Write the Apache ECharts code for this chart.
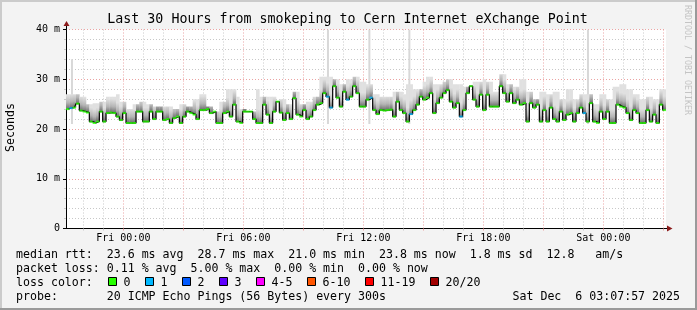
<!DOCTYPE html>
<html><head><meta charset="utf-8">
<script src="https://cdn.jsdelivr.net/npm/echarts@6/dist/echarts.min.js"></script>
<style>html,body{margin:0;padding:0;background:#f3f3f3}#c{width:697px;height:310px}</style>
</head><body><div id="c"></div>
<script>
// ---- time frame (hours relative to Fri 00:00) ----
const startHour = -2.868;   // Thu 21:07:57
const endHour = 27.132;     // Sat 03:07:57
const sampleHours = 1 / 6;  // one median every 10 minutes
const smokeColHours = 1 / 3;

// ---- median rtt (ms), 10-minute samples ----
const median = [
24.0, 24.2, 24.3, 25.1, 23.7, 23.5, 23.3, 21.5, 21.2, 21.5, 23.5, 21.5, 23.2, 23.3, 23.2, 22.5, 21.8, 23.2, 21.2, 21.2, 21.2, 23.5, 23.5, 21.5, 21.5, 23.5, 22.0, 23.5, 23.5, 21.8,
22.0, 21.2, 22.2, 22.5, 21.2, 22.5, 23.5, 23.2, 22.9, 22.0, 23.8, 23.8, 24.0, 23.2, 23.5, 21.2, 21.2, 23.2, 23.5, 22.5, 24.9, 21.5, 21.2, 23.5, 23.5, 23.5, 22.0, 21.2, 21.2, 24.9, 22.9,
21.2, 23.5, 25.5, 23.3, 21.8, 23.2, 22.0, 26.2, 22.9, 22.5, 23.8, 22.0, 22.5, 23.8, 24.9, 25.2, 27.2, 26.5, 24.3, 28.6, 26.3, 24.5, 27.5, 25.9, 26.5, 28.6, 27.2, 24.5, 24.5, 25.9, 26.3,
23.8, 23.0, 23.8, 23.7, 23.8, 23.9, 22.5, 25.5, 23.8, 23.2, 21.5, 23.0, 23.8, 24.9, 26.5, 25.9, 26.3, 27.2, 23.2, 25.2, 26.3, 27.2, 27.8, 25.5, 24.3, 25.2, 22.5, 23.8, 27.2, 28.6, 25.9, 24.5,
26.9, 23.8, 26.9, 24.5, 24.5, 24.5, 28.6, 27.2, 25.5, 27.2, 25.2, 25.9, 24.9, 25.2, 21.5, 25.2, 24.3, 24.9, 21.5, 23.8, 21.5, 24.3, 22.0, 21.5, 23.5, 21.8, 22.9, 23.2, 21.5, 23.2,
24.3, 23.2, 21.5, 25.2, 21.5, 21.2, 23.5, 22.0, 23.5, 21.2, 21.2, 24.9, 24.5, 24.3, 23.2, 21.8, 23.8, 23.2, 21.2, 21.2, 23.8, 21.5, 22.9, 21.2, 24.9, 23.8
];
// samples that lost 1 of 20 pings
const lossOneSamples = [1, 78, 79, 84, 91, 103, 118, 155];

// ---- smoke top (ms), 20-minute columns ----
const smokeHi = [
27, 27, 26.5, 25, 25.2, 25.5, 26.5, 27, 25.5, 24, 25, 25.5, 25, 24.5, 24.5,
24.5, 24, 25, 24.5, 26, 27, 24.5, 23.5, 25.5, 28, 26.5, 24, 23.5, 28, 26.5, 26.5,
24, 26, 25, 27.5, 25, 25.5, 26.5, 30.5, 30.5, 30, 29, 30, 30.5, 29.5, 29, 27,
26.5, 26.5, 27.5, 27, 29, 28, 29.5, 30.5, 29, 29.5, 30, 29, 28.5, 28.5, 29.5, 30,
29.5, 27.5, 31, 29, 28.5, 30, 27.5, 26, 27.5, 27, 27.5, 26, 28, 26, 27,
27, 25, 27, 26, 28.5, 29, 28, 27, 26, 26.5, 26, 28
];
// isolated outlier pings: [hour, ms]
const spikeHours = [-2.57, 10.23, 12.30, 14.30, 23.23];
const spikeTops = [34, 40, 40, 40, 40];

// ---- axes ----
const yTickValues = [0, 10, 20, 30, 40];
const xLabelValues = [0, 6, 12, 18, 24];
const xLabelTexts = ['Fri 00:00', 'Fri 06:00', 'Fri 12:00', 'Fri 18:00', 'Sat 00:00'];
const hourMinor = [];
const hourMajor = [];
for (let h = -2; h <= 27; h++) { (h % 3 === 0 ? hourMajor : hourMinor).push(h); }

// ---- legend texts ----
const titleText = 'Last 30 Hours from smokeping to Cern Internet eXchange Point';
const statLine1 = 'median rtt:  23.6 ms avg  28.7 ms max  21.0 ms min  23.8 ms now  1.8 ms sd  12.8   am/s';
const statLine2 = 'packet loss: 0.11 % avg  5.00 % max  0.00 % min  0.00 % now';
const lossLabels = ['0', '1', '2', '3', '4-5', '6-10', '11-19', '20/20'];
const lossColors = ['#26ff00', '#00b8ff', '#0059ff', '#5e00ff', '#ff00ff', '#ff5500', '#ff0000', '#a10000'];
const probeText = 'probe:       20 ICMP Echo Pings (56 Bytes) every 300s';
const dateText = 'Sat Dec  6 03:07:57 2025';

// ---------------------------------------------------------------
const MONO = '"DejaVu Sans Mono", monospace';
const lossSet = new Set(lossOneSamples);
const medianData = median.map((m, i) => [startHour + (i + 0.5) * sampleHours, m]);
const smokeData = median.map((m, i) => [startHour + (i + 0.5) * sampleHours, m, smokeHi[Math.floor(i * sampleHours / smokeColHours)]]);
const spikeData = spikeHours.map((h, i) => [h, 21, spikeTops[i]]);

const chart = echarts.init(document.getElementById('c'), null, {renderer: 'canvas'});

const GRID = {left: 66, top: 29.5, width: 600, height: 199};
const gx0 = GRID.left, gy1 = GRID.top + GRID.height, gx1 = GRID.left + GRID.width;

const graphics = [];
// frame
graphics.push({type: 'rect', shape: {x: 0, y: 0, width: 697, height: 2}, style: {fill: '#cbcbcb'}, silent: true});
graphics.push({type: 'rect', shape: {x: 0, y: 0, width: 2, height: 310}, style: {fill: '#cbcbcb'}, silent: true});
graphics.push({type: 'rect', shape: {x: 0, y: 308, width: 697, height: 2}, style: {fill: '#9a9a9a'}, silent: true});
graphics.push({type: 'rect', shape: {x: 695, y: 0, width: 2, height: 310}, style: {fill: '#9a9a9a'}, silent: true});
// title
graphics.push({type: 'text', x: 347.5, y: 19.5, style: {text: titleText, font: '13.3px ' + MONO, fill: '#000', align: 'center', verticalAlign: 'middle'}, silent: true});
// y label
graphics.push({type: 'text', x: 10.5, y: 127.5, rotation: Math.PI / 2, style: {text: 'Seconds', font: '11.6px ' + MONO, fill: '#000', align: 'center', verticalAlign: 'middle'}, silent: true});
// watermark
graphics.push({type: 'text', x: 687, y: 5, rotation: -Math.PI / 2, style: {text: 'RRDTOOL / TOBI OETIKER', font: '8.3px ' + MONO, fill: '#c4c4c4', align: 'left', verticalAlign: 'middle'}, silent: true});
// axis arrows
graphics.push({type: 'line', shape: {x1: gx0 + 0.5, y1: GRID.top, x2: gx0 + 0.5, y2: 25}, style: {stroke: '#000', lineWidth: 1}, silent: true});
graphics.push({type: 'polygon', shape: {points: [[gx0 - 2.5, 26], [gx0 + 3.5, 26], [gx0 + 0.5, 21]]}, style: {fill: '#8b1a1a'}, silent: true});
graphics.push({type: 'line', shape: {x1: gx1, y1: gy1, x2: gx1 + 2, y2: gy1}, style: {stroke: '#000', lineWidth: 1}, silent: true});
graphics.push({type: 'polygon', shape: {points: [[gx1 + 1, gy1 - 3], [gx1 + 1, gy1 + 3], [gx1 + 6.5, gy1]]}, style: {fill: '#8b1a1a'}, silent: true});
// legend lines
const LFONT = '11.6px ' + MONO;
const lx = 16;
graphics.push({type: 'text', x: lx, y: 254.5, style: {text: statLine1, font: LFONT, fill: '#000', verticalAlign: 'middle'}, silent: true});
graphics.push({type: 'text', x: lx, y: 268.5, style: {text: statLine2, font: LFONT, fill: '#000', verticalAlign: 'middle'}, silent: true});
graphics.push({type: 'text', x: lx, y: 282.5, style: {text: 'loss color:', font: LFONT, fill: '#000', verticalAlign: 'middle'}, silent: true});
const boxX = [108.5, 145.5, 182.5, 219.5, 256.5, 307.5, 365.5, 430.5];
lossLabels.forEach((lab, i) => {
  graphics.push({type: 'rect', shape: {x: boxX[i], y: 277.5, width: 8, height: 8}, style: {fill: lossColors[i], stroke: '#000', lineWidth: 1}, silent: true});
  graphics.push({type: 'text', x: boxX[i] + 15, y: 282.5, style: {text: lab, font: LFONT, fill: '#000', verticalAlign: 'middle'}, silent: true});
});
graphics.push({type: 'text', x: lx, y: 296.5, style: {text: probeText, font: LFONT, fill: '#000', verticalAlign: 'middle'}, silent: true});
graphics.push({type: 'text', x: 680, y: 296.5, style: {text: dateText, font: LFONT, fill: '#000', align: 'right', verticalAlign: 'middle'}, silent: true});

const GRIDGRAY = '#c8c8c8';
const GRIDRED = '#eba3a3';

chart.setOption({
  backgroundColor: '#f3f3f3',
  animation: false,
  grid: {left: GRID.left, top: GRID.top, width: GRID.width, height: GRID.height, show: true, backgroundColor: '#ffffff', borderWidth: 0},
  xAxis: [{
    type: 'value', min: startHour, max: endHour, position: 'bottom',
    axisLine: {show: true, onZero: false, lineStyle: {color: '#000', width: 1}},
    axisTick: {show: true, customValues: hourMinor, length: 2, lineStyle: {color: GRIDGRAY}},
    axisLabel: {show: false},
    splitLine: {show: true, lineStyle: {color: GRIDGRAY, width: 1, type: [1, 2]}}
  }, {
    type: 'value', min: startHour, max: endHour, position: 'bottom',
    axisLine: {show: false, onZero: false},
    axisTick: {show: true, customValues: hourMajor, length: 2, lineStyle: {color: GRIDRED}},
    axisLabel: {show: true, customValues: xLabelValues, margin: 5, fontFamily: MONO, fontSize: 10, color: '#000',
      formatter: v => xLabelTexts[xLabelValues.indexOf(Math.round(v))] || ''},
    splitLine: {show: true, lineStyle: {color: GRIDRED, width: 1, type: [1, 2]}}
  }],
  yAxis: {
    type: 'value', min: 0, max: 40, interval: 10,
    axisLine: {show: true, onZero: false, lineStyle: {color: '#000', width: 1}},
    axisTick: {show: true, length: 3, lineStyle: {color: '#000'}},
    minorTick: {show: true, splitNumber: 5, length: 2, lineStyle: {color: GRIDGRAY}},
    minorSplitLine: {show: true, lineStyle: {color: GRIDGRAY, width: 1, type: [1, 2]}},
    splitLine: {show: true, lineStyle: {color: GRIDRED, width: 1, type: [1, 2]}},
    axisLabel: {margin: 6, fontFamily: MONO, fontSize: 10, color: '#000',
      formatter: v => yTickValues.includes(v) ? (v === 0 ? '0' : v + ' m') : ''}
  },
  series: [{
    type: 'custom', name: 'outliers', z: 2, clip: true,
    data: spikeData, encode: {x: 0, y: [1, 2]},
    renderItem: (params, api) => {
      const h = api.value(0);
      const a = api.coord([h, api.value(2)]);
      const b = api.coord([h, api.value(1)]);
      return {type: 'rect', shape: {x: a[0] - 1, y: a[1], width: 2, height: b[1] - a[1]}, style: {fill: '#d8d8d8'}};
    }
  }, {
    type: 'custom', name: 'smoke', z: 3, clip: true,
    data: smokeData, encode: {x: 0, y: [1, 2]},
    renderItem: (params, api) => {
      const h = api.value(0), m = api.value(1), hi = api.value(2);
      if (!(hi > m)) return null;
      const a = api.coord([h - sampleHours / 2, hi]);
      const b = api.coord([h + sampleHours / 2, m]);
      return {type: 'rect', shape: {x: a[0], y: a[1], width: b[0] - a[0] + 0.3, height: b[1] - a[1]},
        style: {fill: new echarts.graphic.LinearGradient(0, b[1], 0, b[1] - 14, [{offset: 0, color: '#6a6a6a'}, {offset: 0.45, color: '#b4b4b4'}, {offset: 1, color: '#e0e0e0'}], true)}};
    }
  }, {
    type: 'line', name: 'median', z: 4, data: medianData, step: 'middle', showSymbol: false,
    lineStyle: {color: '#000', width: 1.2}, silent: true
  }, {
    type: 'scatter', name: 'loss', z: 5, data: medianData, symbol: 'rect', symbolSize: [3.4, 2],
    itemStyle: {color: p => lossSet.has(p.dataIndex) ? lossColors[1] : lossColors[0]}, silent: true
  }],
  graphic: graphics
});
</script></body></html>
